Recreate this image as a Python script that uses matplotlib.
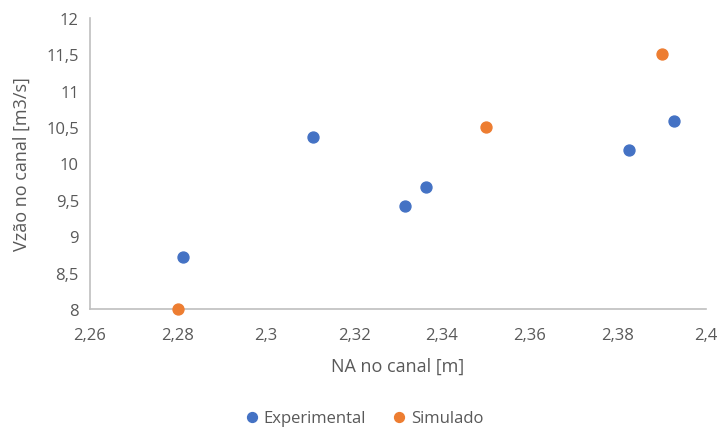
import matplotlib.pyplot as plt
from matplotlib.ticker import FuncFormatter, MultipleLocator

plt.rcParams['font.family'] = ['Open Sans', 'DejaVu Sans']

# Measured and simulated points
exp_na = [2.2812, 2.3107, 2.3316, 2.3364, 2.3825, 2.3927]
exp_q = [8.71, 10.36, 9.415, 9.68, 10.18, 10.58]
sim_na = [2.28, 2.35, 2.39]
sim_q = [8.0, 10.5, 11.5]

blue = '#4472C4'
orange = '#ED7D31'
text_gray = '#595959'

fig = plt.figure(figsize=(7.21, 4.31), dpi=100)
ax = fig.add_axes([90 / 721, 121 / 431, 616 / 721, 291 / 431])

ax.scatter(exp_na, exp_q, s=62, color=blue, label='Experimental', zorder=3, clip_on=False)
ax.scatter(sim_na, sim_q, s=62, color=orange, label='Simulado', zorder=3, clip_on=False)

ax.set_xlim(2.26, 2.4)
ax.set_ylim(8, 12)
ax.xaxis.set_major_locator(MultipleLocator(0.02))
ax.yaxis.set_major_locator(MultipleLocator(0.5))

# decimal comma labels
def comma(v, pos):
    s = f'{v:.2f}'.rstrip('0').rstrip('.')
    return s.replace('.', ',')

ax.xaxis.set_major_formatter(FuncFormatter(comma))
ax.yaxis.set_major_formatter(FuncFormatter(comma))

for side in ('top', 'right'):
    ax.spines[side].set_visible(False)
for side in ('left', 'bottom'):
    ax.spines[side].set_color('#BFBFBF')
    ax.spines[side].set_linewidth(1.2)

ax.tick_params(length=0, labelsize=12, labelcolor=text_gray, pad=8)
ax.tick_params(axis='x', pad=13)

ax.set_xlabel('NA no canal [m]', fontsize=13, color=text_gray, labelpad=10)
ax.set_ylabel('Vzão no canal [m3/s]', fontsize=13, color=text_gray, labelpad=11)

fig.legend(loc='lower center', bbox_to_anchor=(0.505, -0.025), ncol=2, frameon=False,
           fontsize=12, labelcolor=text_gray, handlelength=0.8, handletextpad=0.3,
           columnspacing=1.6, markerscale=0.9)

fig.savefig('out.png', dpi=100)
